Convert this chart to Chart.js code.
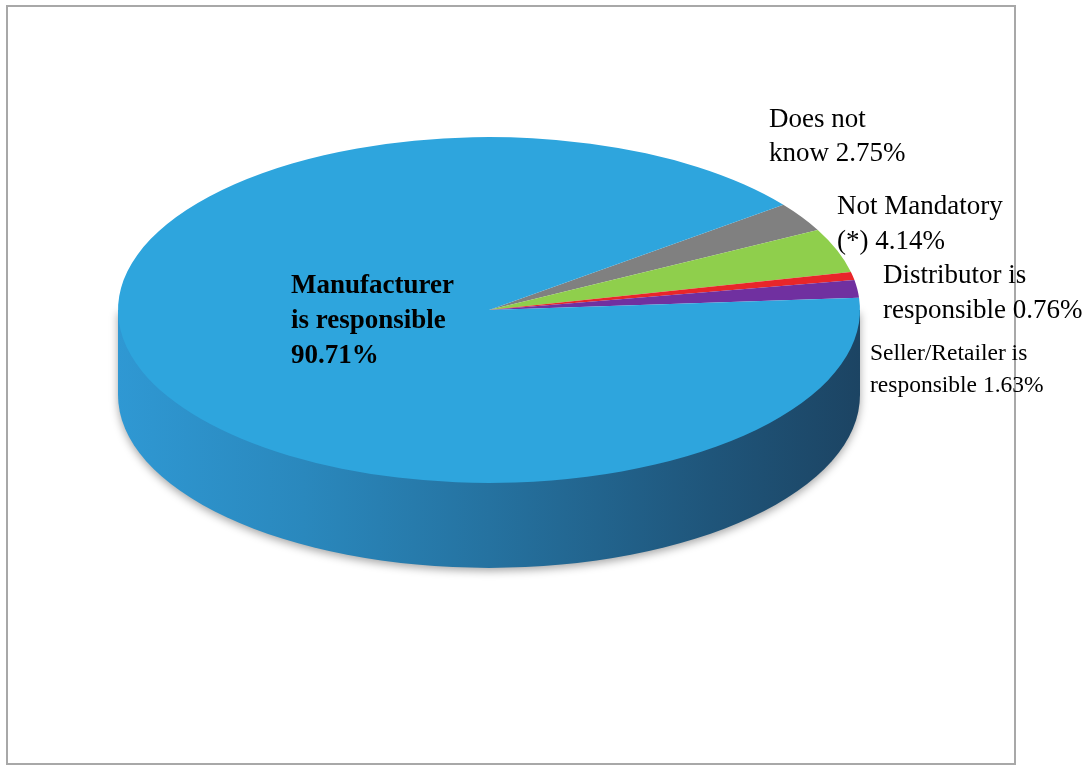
<!DOCTYPE html>
<html>
<head>
<meta charset="utf-8">
<script src="https://cdn.jsdelivr.net/npm/chart.js@4.4.0/dist/chart.umd.min.js"></script>
<style>
  html, body { margin: 0; padding: 0; background: #fff; }
  #wrap { position: relative; width: 1082px; height: 765px; }
  #frame { position: absolute; left: 6px; top: 5px; width: 1006px; height: 756px; border: 2px solid #a8a8a8; }
  #chartBox { position: absolute; left: 0; top: 0; width: 1082px; height: 765px; }
</style>
</head>
<body>
<div id="wrap">
  <div id="frame"></div>
  <div id="chartBox"><canvas id="myChart"></canvas></div>
</div>
<script>
// Who is responsible - survey shares (%)
const categories = ['Does not know', 'Not Mandatory (*)', 'Distributor is responsible', 'Seller/Retailer is responsible', 'Manufacturer is responsible'];
const shares = [2.75, 4.14, 0.76, 1.63, 90.71];
const sliceColors = ['#808080', '#8fcf4c', '#e8262a', '#7030a0', '#2ea5dd'];

// label text, one entry per line
const labelLines = [
    ['Does not', 'know 2.75%'],
    ['Not Mandatory', '(*) 4.14%'],
    ['Distributor is', 'responsible 0.76%'],
    ['Seller/Retailer is', 'responsible 1.63%'],
    ['Manufacturer', 'is responsible', '90.71%']
];

// layout of the fake 3d look
const TILT = 0.466;      // vertical squash of the top face
const DEPTH = 85;        // thickness of the side
const PIE_CY = 310;      // where the top face centre ends up
const labelPos = [
    { x: 769, y: 127, size: 27, bold: false, gap: 34 },
    { x: 837, y: 214, size: 27, bold: false, gap: 35 },
    { x: 883, y: 283, size: 27, bold: false, gap: 35 },
    { x: 870, y: 360, size: 23.5, bold: false, gap: 32 },
    { x: 291, y: 293, size: 27, bold: true, gap: 35 }
];

const pie3d = {
    id: 'pie3d',
    beforeDatasetsDraw(chart) {
        const ctx = chart.ctx;
        const arc = chart.getDatasetMeta(0).data[0];
        const { x, y, outerRadius } = arc.getProps(['x', 'y', 'outerRadius'], true);
        const rx = outerRadius;
        const ry = outerRadius * TILT;

        // side of the disc
        ctx.save();
        const grad = ctx.createLinearGradient(x - rx, 0, x + rx, 0);
        grad.addColorStop(0, '#2f98d3');
        grad.addColorStop(0.25, '#2a88bd');
        grad.addColorStop(0.5, '#2572a0');
        grad.addColorStop(0.8, '#1f557a');
        grad.addColorStop(1, '#1c4463');
        ctx.shadowColor = 'rgba(0,0,0,0.35)';
        ctx.shadowBlur = 8;
        ctx.shadowOffsetY = 3;
        ctx.fillStyle = grad;
        ctx.beginPath();
        ctx.ellipse(x, PIE_CY + DEPTH, rx, ry, 0, 0, Math.PI);
        ctx.lineTo(x - rx, PIE_CY);
        ctx.lineTo(x + rx, PIE_CY);
        ctx.closePath();
        ctx.fill();
        ctx.restore();

        // squash the circle into the top face
        ctx.save();
        ctx.translate(0, PIE_CY);
        ctx.scale(1, TILT);
        ctx.translate(0, -y);
    },
    afterDatasetsDraw(chart) {
        chart.ctx.restore();
    },
    afterDraw(chart) {
        const ctx = chart.ctx;
        ctx.save();
        ctx.fillStyle = '#000';
        ctx.textAlign = 'left';
        ctx.textBaseline = 'alphabetic';
        labelLines.forEach((lines, i) => {
            const p = labelPos[i];
            ctx.font = (p.bold ? 'bold ' : '') + p.size + 'px "Liberation Serif", "Times New Roman", serif';
            lines.forEach((line, j) => {
                ctx.fillText(line, p.x, p.y + j * p.gap);
            });
        });
        ctx.restore();
    }
};

const ctx = document.getElementById('myChart').getContext('2d');

new Chart(ctx, {
    type: 'pie',
    data: {
        labels: categories,
        datasets: [{
            data: shares,
            backgroundColor: sliceColors,
            borderWidth: 0,
            hoverOffset: 0,
            offset: 0
        }]
    },
    options: {
        responsive: true,
        maintainAspectRatio: false,
        animation: false,
        events: [],
        rotation: 52.5,
        layout: {
            padding: { left: 118, right: 222, top: 0, bottom: 0 }
        },
        plugins: {
            legend: { display: false },
            tooltip: { enabled: false }
        }
    },
    plugins: [pie3d]
});
</script>
</body>
</html>
